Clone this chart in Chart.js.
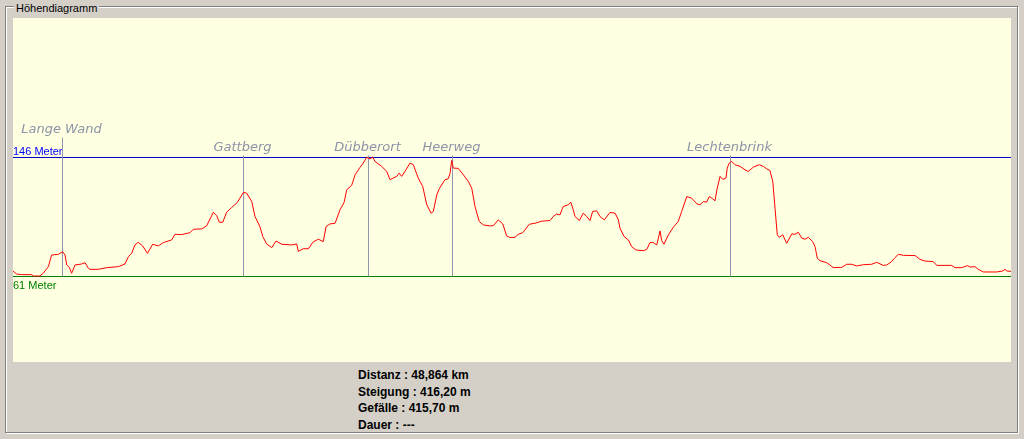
<!DOCTYPE html>
<html>
<head>
<meta charset="utf-8">
<script src="https://cdn.jsdelivr.net/npm/chart.js@4"></script>
<style>
  html, body { margin: 0; padding: 0; }
  body {
    width: 1024px; height: 439px; overflow: hidden; position: relative;
    background: #d4d0c8; font-family: "Liberation Sans", Arial, sans-serif;
  }
  .etch1 { position: absolute; left: 6px; top: 7px; width: 1011px; height: 425px; border: 1px solid #fff; }
  .etch2 { position: absolute; left: 5px; top: 6px; width: 1011px; height: 425px; border: 1px solid #808080; }
  .titel {
    position: absolute; left: 14px; top: 2px; padding: 0 2px; background: #d4d0c8;
    font-size: 11px; line-height: 13px; color: #000;
  }
  .plot { position: absolute; left: 13px; top: 18px; width: 998px; height: 344px; background: #ffffe1; }
  .stats {
    position: absolute; left: 358px; top: 367px; font-size: 12px; font-weight: bold;
    line-height: 16.5px; color: #000;
  }
</style>
</head>
<body>
<div class="etch1"></div>
<div class="etch2"></div>
<div class="titel">Höhendiagramm</div>
<div class="plot"><canvas id="profil" width="998" height="344"></canvas></div>
<div class="stats" id="stats"></div>

<script>
// Strecke (km) und Höhe (m)
const distanzKm = [
  0.00, 0.18, 0.43, 0.92, 0.99, 1.32, 1.48, 1.73, 1.89, 2.22, 2.43, 2.55, 2.63, 2.76, 2.87,
  3.04, 3.36, 3.53, 3.69, 3.77, 4.18, 4.59, 5.16, 5.48, 5.65, 5.81, 5.97, 6.13, 6.35, 6.58,
  6.84, 7.11, 7.36, 7.77, 7.93, 8.26, 8.67, 8.83, 9.24, 9.48, 9.81, 9.97, 10.10, 10.27, 10.46,
  10.71, 10.98, 11.28, 11.44, 11.69, 11.85, 12.09, 12.23, 12.42, 12.67, 12.88, 13.16, 13.65, 13.89, 13.97,
  14.21, 14.46, 14.70, 14.95, 15.19, 15.33, 15.52, 15.77, 16.01, 16.21, 16.34, 16.58, 16.75, 16.99, 17.15,
  17.32, 17.48, 17.61, 17.72, 18.05, 18.30, 18.46, 18.62, 18.79, 18.91, 19.03, 19.19, 19.44, 19.60, 19.84,
  20.06, 20.26, 20.47, 20.58, 20.75, 20.87, 21.15, 21.31, 21.40, 21.48, 21.56, 21.80, 22.05, 22.29, 22.46,
  22.62, 22.83, 23.03, 23.35, 23.52, 23.76, 23.98, 24.17, 24.33, 24.58, 24.74, 24.96, 25.28, 25.56, 25.89,
  26.29, 26.45, 26.62, 26.78, 26.94, 27.19, 27.31, 27.43, 27.52, 27.73, 27.92, 28.09, 28.25, 28.38, 28.58,
  28.74, 28.95, 29.23, 29.48, 29.64, 29.72, 29.92, 30.13, 30.29, 30.50, 30.86, 31.03, 31.19, 31.35, 31.52,
  31.68, 31.76, 31.87, 32.09, 32.33, 32.57, 32.74, 32.99, 33.23, 33.48, 33.64, 33.80, 33.96, 34.09, 34.26,
  34.37, 34.48, 34.62, 34.75, 34.91, 34.97, 35.07, 35.19, 35.35, 35.60, 35.84, 36.00, 36.25, 36.54, 36.74,
  36.90, 37.06, 37.20, 37.31, 37.42, 37.52, 37.69, 37.88, 38.13, 38.29, 38.45, 38.62, 38.78, 38.94, 39.15,
  39.27, 39.38, 39.51, 39.84, 40.00, 40.16, 40.57, 40.82, 41.06, 41.31, 41.63, 42.04, 42.29, 42.61, 42.78,
  43.02, 43.18, 43.35, 43.59, 44.17, 44.41, 44.66, 45.06, 45.23, 45.96, 46.12, 46.45, 46.72, 46.89, 47.10,
  47.26, 47.51, 48.16, 48.46, 48.57, 48.66, 48.864
];
const hoeheM = [
  64.6, 62.4, 62.0, 62.0, 61.0, 61.0, 63.0, 67.7, 76.0, 76.5, 78.4, 76.0, 68.9, 67.2, 63.0,
  68.9, 69.6, 70.5, 66.5, 65.8, 65.8, 67.0, 67.7, 69.6, 74.8, 77.2, 83.2, 85.1, 82.5, 77.2,
  83.7, 82.5, 84.9, 86.8, 90.8, 90.6, 92.0, 94.4, 94.7, 96.8, 106.6, 104.2, 99.4, 99.4, 106.6,
  110.0, 113.5, 120.7, 120.2, 114.2, 103.5, 96.3, 89.2, 83.9, 81.3, 86.0, 83.7, 83.2, 83.9, 78.6,
  80.5, 80.5, 85.4, 87.3, 85.6, 96.3, 98.2, 98.7, 108.3, 113.5, 122.6, 125.7, 133.3, 138.6, 141.7,
  145.8, 144.6, 146.0, 142.9, 139.3, 135.7, 129.8, 131.0, 132.2, 134.5, 132.2, 135.7, 141.7, 140.5, 131.0,
  125.0, 111.9, 105.9, 107.1, 119.0, 123.3, 129.8, 130.5, 134.5, 143.6, 138.1, 137.9, 133.3, 128.6, 123.8,
  110.7, 99.9, 97.5, 96.8, 97.0, 101.1, 98.2, 89.7, 88.5, 88.7, 90.8, 92.0, 98.0, 98.7, 100.2,
  100.6, 103.5, 105.4, 104.7, 110.7, 111.9, 113.8, 108.3, 103.5, 100.6, 105.9, 103.5, 100.6, 107.1, 107.6,
  103.5, 101.1, 106.4, 105.9, 101.1, 95.1, 89.2, 86.8, 82.0, 79.6, 79.1, 80.0, 84.9, 84.9, 83.2,
  93.2, 86.3, 83.7, 90.4, 95.9, 99.9, 107.1, 117.8, 116.6, 112.6, 111.9, 114.2, 113.8, 117.8, 116.2,
  114.7, 123.8, 132.2, 130.0, 131.0, 138.1, 141.7, 142.9, 140.5, 139.3, 136.9, 135.7, 138.8, 140.5, 139.3,
  137.6, 136.4, 128.6, 109.5, 90.4, 88.7, 90.4, 84.4, 91.1, 90.8, 92.3, 88.0, 87.3, 88.7, 85.6,
  82.0, 73.7, 72.0, 70.5, 68.9, 67.0, 67.2, 69.4, 69.4, 68.2, 69.1, 69.4, 70.8, 68.6, 68.9,
  71.3, 74.1, 76.5, 75.8, 75.6, 72.9, 71.7, 71.3, 68.6, 68.6, 67.0, 67.0, 68.4, 67.4, 67.7,
  65.8, 63.9, 63.9, 64.6, 65.8, 64.6, 64.3
];

// Wegpunkte
const wegpunktNamen = ["Lange Wand", "Gattberg", "Dübberort", "Heerweg", "Lechtenbrink"];
const wegpunktKm = [2.41, 11.28, 17.43, 21.51, 35.12];

// Höchster / tiefster Punkt
const maxHoehe = 146;
const minHoehe = 61;

const statZeilen = [
  "Distanz : 48,864 km",
  "Steigung : 416,20 m",
  "Gefälle : 415,70 m",
  "Dauer : ---"
];

document.getElementById("stats").innerHTML = statZeilen.join("<br>");

const punkte = distanzKm.map(function(km, i) { return { x: km, y: hoeheM[i] }; });

// Linien für Min/Max und Wegpunkte
const markierungen = {
  id: "markierungen",
  beforeDatasetsDraw: function(chart) {
    const ctx = chart.ctx;
    const xs = chart.scales.x;
    const ys = chart.scales.y;
    const yMax = Math.floor(ys.getPixelForValue(maxHoehe)) + 0.5;
    const yMin = Math.floor(ys.getPixelForValue(minHoehe)) + 0.5;
    const links = chart.chartArea.left;
    const rechts = chart.chartArea.right;

    ctx.save();
    ctx.lineWidth = 1;

    ctx.strokeStyle = "#0000c8";
    ctx.beginPath(); ctx.moveTo(links, yMax); ctx.lineTo(rechts, yMax); ctx.stroke();
    ctx.strokeStyle = "#008000";
    ctx.beginPath(); ctx.moveTo(links, yMin); ctx.lineTo(rechts, yMin); ctx.stroke();

    ctx.font = "11px 'Liberation Sans', Arial, sans-serif";
    ctx.textBaseline = "alphabetic";
    ctx.textAlign = "left";
    ctx.fillStyle = "#0000ff";
    const maxText = maxHoehe + " Meter";
    ctx.fillText(maxText, links, yMax - 3);
    const maxTextBreite = ctx.measureText(maxText).width;
    ctx.fillStyle = "#008000";
    ctx.fillText(minHoehe + " Meter", links, yMin + 12);

    // Wegpunkte
    ctx.font = "italic 13px 'DejaVu Sans', Verdana, sans-serif";
    ctx.textAlign = "center";
    wegpunktKm.forEach(function(km, i) {
      const x = Math.floor(xs.getPixelForValue(km)) + 0.5;
      const name = wegpunktNamen[i];
      const breite = ctx.measureText(name).width;
      let oben = yMax - 2;
      // über das Max-Label ausweichen
      if (x - breite / 2 < links + maxTextBreite + 4) oben -= 18;
      ctx.strokeStyle = "#8e96b0";
      ctx.beginPath(); ctx.moveTo(x, yMin); ctx.lineTo(x, oben); ctx.stroke();
      ctx.fillStyle = "#8c94a8";
      ctx.fillText(name, x - 1, oben - 5);
    });
    ctx.restore();
  }
};

new Chart("profil", {
  type: "line",
  data: {
    datasets: [{
      data: punkte,
      borderColor: "#ff0000",
      borderWidth: 1,
      pointRadius: 0,
      tension: 0,
      fill: false
    }]
  },
  options: {
    responsive: false,
    animation: false,
    layout: { padding: 0 },
    scales: {
      x: { type: "linear", min: 0, max: 48.864, display: false },
      y: { min: -0.4, max: 245.3, display: false }
    },
    plugins: { legend: { display: false }, tooltip: { enabled: false } }
  },
  plugins: [markierungen]
});
</script>
</body>
</html>
